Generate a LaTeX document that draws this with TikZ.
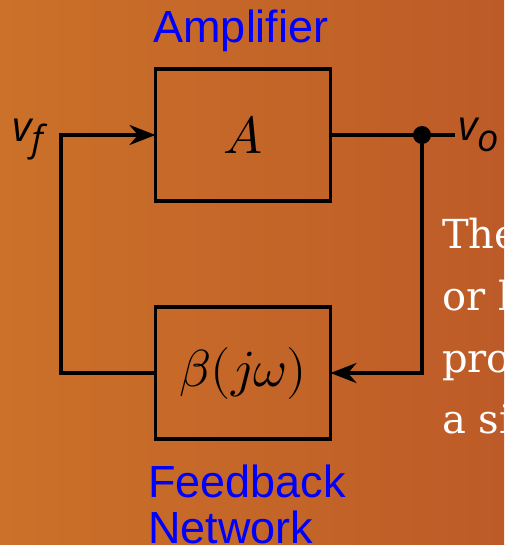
\documentclass[tikz,border=0pt]{standalone}
\usepackage{fontspec}
\usepackage{unicode-math}
\newfontfamily\labelfont{Liberation Sans}
\newfontfamily\notefont{DejaVu Serif}
\newfontfamily\varfont{Open Sans}
\usetikzlibrary{arrows.meta,positioning}
\definecolor{bgleft}{RGB}{203,113,41}
\definecolor{bgright}{RGB}{189,91,40}

\begin{document}
\begin{tikzpicture}[x=1pt,y=-1pt,
	block/.style={draw=black, line width=3.5pt, minimum width=175pt, minimum height=132pt, inner sep=0pt, outer sep=0pt, font=\fontsize{52}{52}\selectfont},
	wire/.style={line width=3.5pt},
	feed/.style={wire, -{Stealth[length=26pt,width=20pt]}},
	tag/.style={text=blue, font=\labelfont\fontsize{45}{46}\selectfont, align=left, inner sep=0pt},
	var/.style={font=\varfont\fontsize{42}{42}\selectfont\itshape, inner sep=0pt},
	note/.style={text=white, font=\notefont\fontsize{40}{40}\selectfont, anchor=base west, inner sep=0pt}]
	\useasboundingbox (0,0) rectangle (504,545);
	\shade[left color=bgleft, right color=bgright] (0,0) rectangle (504,545);
	\node[block] (amp) at (243,135) {$A$};
	\node[block] (fb) at (243,373) {$\beta(j\omega)$};
	\node[tag, anchor=base] (amplabel) at (241,43) {Amplifier};
	\node[tag, anchor=base west] (fblabel) at (148,543) {Feedback\\Network};
	\coordinate (corner) at (61,373);
	\coordinate (tap) at (422,135);
	\coordinate (outend) at (455,135);
	\draw[feed] (fb.west) -- (corner) |- (amp.west);
	\draw[wire] (amp.east) -- (outend);
	\draw[feed] (tap) |- (fb.east);
	\fill (tap) circle(9);
	\node[var, anchor=base west] (vf) at (12,142) {v\raisebox{-10pt}{\fontsize{36}{36}\selectfont f}};
	\node[var, anchor=base west] (vo) at (458,141) {v\raisebox{-11pt}{\fontsize{38}{38}\selectfont o}};
	\node[note] (line1) at (442,248) {The};
	\node[note] (line2) at (442,310) {or l};
	\node[note] (line3) at (442,372) {pro};
	\node[note] (line4) at (442,433) {a si};
\end{tikzpicture}
\end{document}
